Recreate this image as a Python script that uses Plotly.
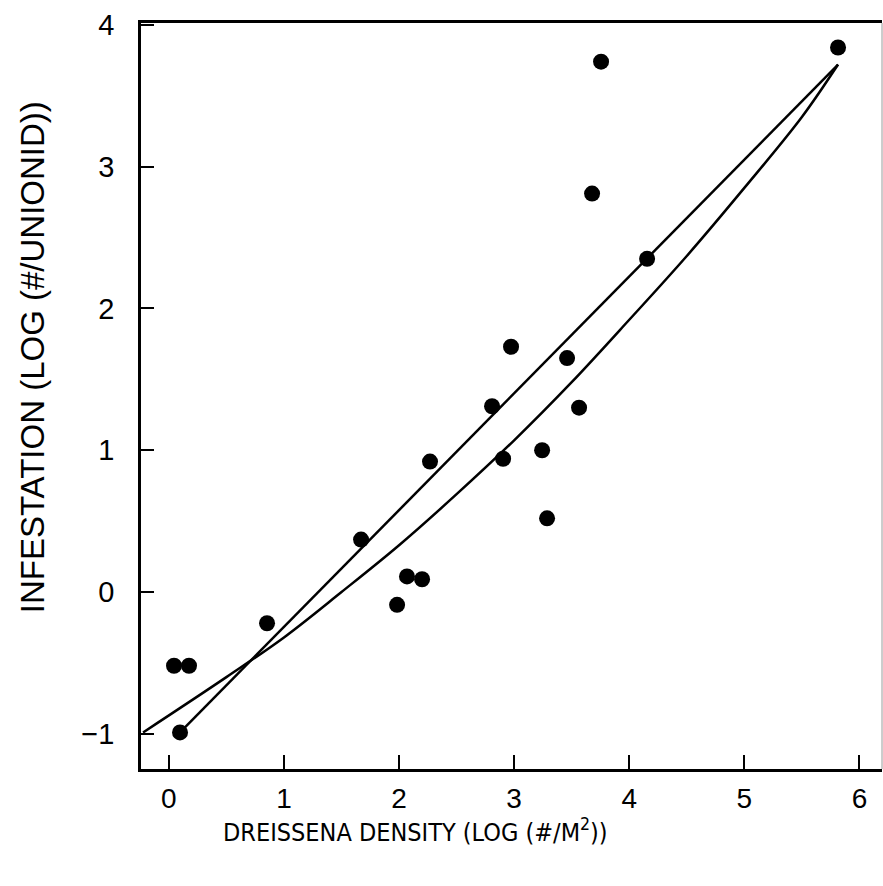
import plotly.graph_objects as go

# Observed data points
density = [0.045, 0.175, 0.097, 0.853, 1.670, 1.983, 2.069, 2.200, 2.269, 2.808,
           2.904, 2.973, 3.243, 3.286, 3.460, 3.564, 3.677, 3.755, 4.155, 5.814]
infestation = [-0.52, -0.52, -0.99, -0.22, 0.37, -0.09, 0.11, 0.09, 0.92, 1.31,
               0.94, 1.73, 1.00, 0.52, 1.65, 1.30, 2.81, 3.74, 2.35, 3.84]

# Linear fit line (endpoints)
lin_x = [0.097, 5.814]
lin_y = [-0.99, 3.72]

# Curved fit
curve_x = [-0.224, 0.5, 1.0, 1.5, 2.0, 2.5, 3.0, 3.5, 4.0, 4.5, 5.0, 5.5, 5.814]
curve_y = [-0.99, -0.60, -0.32, 0.00, 0.33, 0.69, 1.07, 1.48, 1.92, 2.37, 2.85, 3.35, 3.72]

x_ticks = [0, 1, 2, 3, 4, 5, 6]
y_ticks = [-1, 0, 1, 2, 3, 4]
y_ticktext = ["\u22121", "0", "1", "2", "3", "4"]

x_title = "DREISSENA DENSITY (LOG (#/M<sup>2</sup>))"
y_title = "INFESTATION (LOG (#/UNIONID))"

fig = go.Figure()
fig.add_trace(go.Scatter(x=lin_x, y=lin_y, mode="lines",
                         line=dict(color="black", width=2.5), showlegend=False))
fig.add_trace(go.Scatter(x=curve_x, y=curve_y, mode="lines",
                         line=dict(color="black", width=2.5, shape="spline"), showlegend=False))
fig.add_trace(go.Scatter(x=density, y=infestation, mode="markers",
                         marker=dict(color="black", size=16), showlegend=False))

reg = "Liberation Sans, Arial, sans-serif"
narrow = "Liberation Sans Narrow, Arial Narrow, DejaVu Sans Condensed, sans-serif"

fig.update_layout(
    width=883, height=886,
    margin=dict(l=141, r=1, t=23, b=117),
    paper_bgcolor="white", plot_bgcolor="white",
    xaxis=dict(range=[-0.242, 6.196], tickvals=x_ticks, ticks="inside", ticklen=14,
               tickwidth=2, tickcolor="black", showline=True, linecolor="black",
               linewidth=2.5, mirror=True, showgrid=False, zeroline=False,
               tickfont=dict(family=reg, size=28, color="black"),
               ticklabelstandoff=3),
    yaxis=dict(range=[-1.248, 4.013], tickvals=y_ticks, ticktext=y_ticktext,
               ticks="inside", ticklen=13, tickwidth=2, tickcolor="black",
               showline=True, linecolor="black", linewidth=2.5, mirror=False,
               showgrid=False, zeroline=False,
               tickfont=dict(family=reg, size=29, color="black"),
               ticklabelstandoff=18),
    shapes=[dict(type="line", xref="paper", yref="paper", x0=1, x1=1, y0=0, y1=1,
                 line=dict(color="#9a9a9a", width=1))],
    annotations=[
        dict(text=x_title, xref="paper", yref="paper", x=0.371, y=-0.083,
             xanchor="center", yanchor="middle", showarrow=False,
             font=dict(family=narrow, size=25, color="black")),
        dict(text=y_title, xref="paper", yref="paper", x=-0.147, y=0.552,
             xanchor="center", yanchor="middle", textangle=-90, showarrow=False,
             font=dict(family=reg, size=33, color="black")),
    ],
)

fig.write_html("out.html")
